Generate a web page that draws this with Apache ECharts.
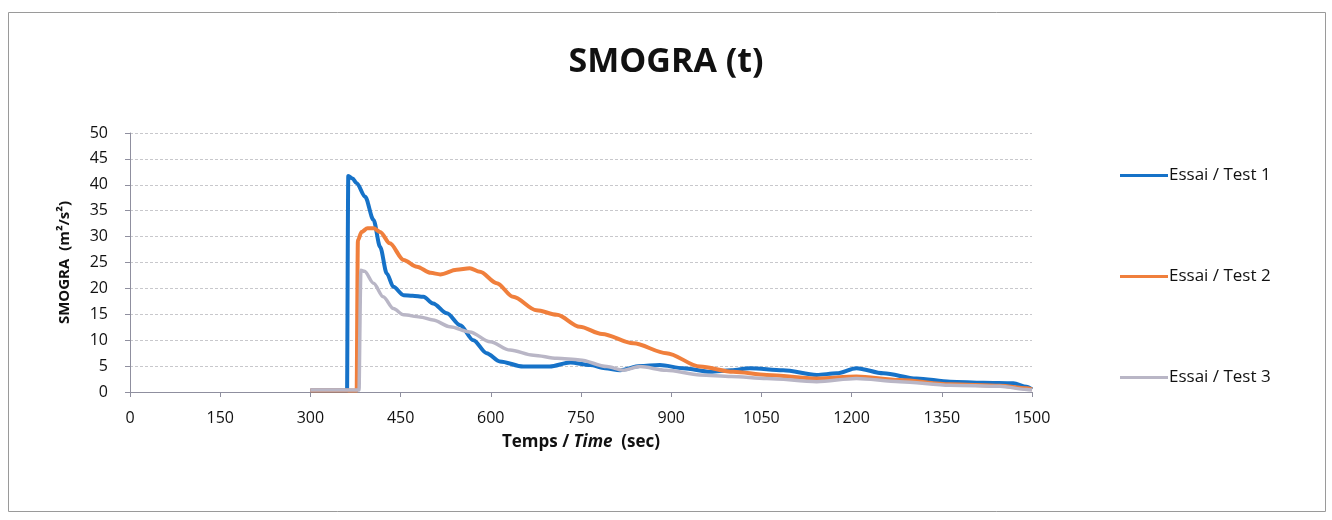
<!DOCTYPE html>
<html><head><meta charset="utf-8">
<script src="https://cdn.jsdelivr.net/npm/echarts@6/dist/echarts.min.js"></script>
<style>html,body{margin:0;padding:0;background:#fff}#c{width:1332px;height:520px}</style>
</head><body><div id="c"></div>
<script>
const titleText = 'SMOGRA (t)';
const yAxisName = 'SMOGRA  (m²/s²)';
const seriesNames = ['Essai / Test 1', 'Essai / Test 2', 'Essai / Test 3'];
const xTicks = [0,150,300,450,600,750,900,1050,1200,1350,1500];
const yTicks = [0,5,10,15,20,25,30,35,40,45,50];

const test1 = [[300,0.3],[361,0.3],[362,0.3],[363,41.7],[370,41.2],[377,40.3],[391,37.7],[405,33.2],[416,28],[427,22.9],[438,20.3],[455,18.7],[470,18.6],[488,18.4],[504,17.1],[527,15.2],[549,12.9],[571,10],[593,7.5],[615,5.9],[654,4.9],[698,4.9],[732,5.7],[765,5.2],[790,4.6],[815,4.2],[848,5.0],[881,5.2],[920,4.6],[965,3.9],[1000,4.2],[1031,4.6],[1086,4.2],[1142,3.3],[1175,3.6],[1208,4.6],[1253,3.6],[1308,2.6],[1364,2.0],[1419,1.8],[1469,1.7],[1491,1.0],[1500,0.5]];
const test2 = [[300,0.3],[377,0.3],[378,0.3],[379,29.3],[385,30.9],[395,31.6],[405,31.6],[416,30.9],[432,28.7],[455,25.5],[477,24.2],[500,23.0],[516,22.7],[543,23.6],[565,23.9],[582,23.2],[610,21],[637,18.4],[676,15.8],[710,14.9],[748,12.6],[785,11.2],[837,9.4],[892,7.5],[948,4.9],[1003,3.9],[1059,3.3],[1142,2.6],[1208,3.0],[1280,2.3],[1364,1.5],[1447,1.2],[1491,0.7],[1500,0.5]];
const test3 = [[300,0.4],[381,0.4],[382,0.4],[384,23.5],[390,23.3],[405,21],[421,18.4],[438,16.1],[455,14.9],[482,14.5],[504,13.9],[532,12.6],[565,11.6],[599,9.7],[632,8.1],[671,7.1],[710,6.5],[748,6.2],[793,4.9],[820,4.2],[848,4.9],[892,4.2],[948,3.3],[1000,3.0],[1059,2.6],[1142,2.0],[1208,2.6],[1280,2.0],[1364,1.3],[1447,1.1],[1491,0.5],[1500,0.4]];

const colors = ['#1672c8', '#f07f3c', '#b9b6c6'];
const font = '"Open Sans", Lato, sans-serif';

const chart = echarts.init(document.getElementById('c'), null, {renderer: 'canvas'});
chart.setOption({
  animation: false,
  backgroundColor: '#fff',
  graphic: [{type: 'rect', shape: {x: 8.5, y: 12.5, width: 1317, height: 499}, style: {fill: 'none', stroke: '#9a9a9a', lineWidth: 1}, silent: true}],
  title: {text: titleText, left: 'center', top: 40, textStyle: {fontFamily: font, fontWeight: 'bold', fontSize: 34, color: '#111'}},
  legend: {
    orient: 'vertical', left: 1115, top: 162, itemGap: 84, itemWidth: 48, itemHeight: 14,
    icon: 'path://M0,6 L48,6 L48,9 L0,9 Z',
    textStyle: {fontFamily: font, fontSize: 17, color: '#111', padding: [0,0,0,-4]},
    data: seriesNames
  },
  grid: {left: 130, right: 300, top: 133, bottom: 128},
  xAxis: {
    type: 'value', min: 0, max: 1500, interval: 150,
    name: 'Temps / {i|Time}  (sec)', nameLocation: 'middle', nameGap: 42,
    nameTextStyle: {fontFamily: font, fontWeight: 'bold', fontSize: 17, color: '#111', rich: {i: {fontFamily: font, fontWeight: 'bold', fontStyle: 'italic', fontSize: 17, color: '#111'}}},
    axisLine: {show: true, lineStyle: {color: '#8f8f9f', width: 1}},
    axisTick: {show: true, inside: false, length: 5, lineStyle: {color: '#8f8f9f'}},
    axisLabel: {fontFamily: font, fontSize: 16, color: '#111', margin: 18, formatter: v => xTicks.includes(v) ? String(v) : ''},
    splitLine: {show: false}
  },
  yAxis: {
    type: 'value', min: 0, max: 50, interval: 5,
    name: yAxisName, nameLocation: 'middle', nameGap: 58, nameRotate: 90,
    nameTextStyle: {fontFamily: font, fontWeight: 'bold', fontSize: 15, color: '#111'},
    axisLine: {show: true, lineStyle: {color: '#8f8f9f', width: 1}},
    axisTick: {show: true, length: 5, lineStyle: {color: '#8f8f9f'}},
    axisLabel: {fontFamily: font, fontSize: 16, color: '#111', margin: 22, formatter: v => yTicks.includes(v) ? String(v) : ''},
    splitLine: {show: true, lineStyle: {color: '#c8c8cc', type: [3,2], width: 1}}
  },
  series: [test1, test2, test3].map((d, i) => ({
    name: seriesNames[i], type: 'line', data: d, showSymbol: false, symbol: 'none',
    smooth: 0.3, smoothMonotone: 'x', z: 2 + i,
    lineStyle: {color: colors[i], width: i === 2 ? 3.5 : 4}, itemStyle: {color: colors[i]}
  }))
});
</script></body></html>
